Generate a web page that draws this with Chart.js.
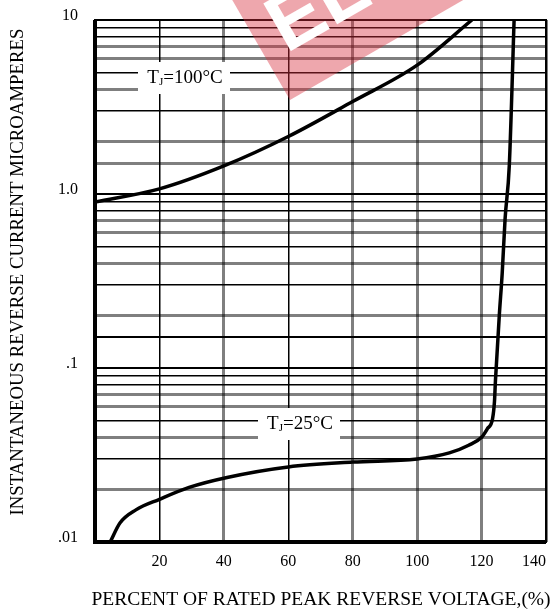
<!DOCTYPE html>
<html>
<head>
<meta charset="utf-8">
<script src="https://cdn.jsdelivr.net/npm/chart.js@4.4.0/dist/chart.umd.min.js"></script>
<style>
  html, body { margin: 0; padding: 0; background: #fff; }
  #wrap { width: 555px; height: 609px; }
</style>
</head>
<body>
<div id="wrap"><canvas id="curveChart" width="555" height="609"></canvas></div>
<script>
// Reverse leakage current vs percent of rated peak reverse voltage

const voltage100 = [0, 20, 40, 60, 80, 100, 117];
const current100 = [0.90, 1.07, 1.45, 2.14, 3.4, 5.5, 10];

const voltage25 = [4.7, 7.8, 12.7, 20, 29.2, 41, 60, 80, 100, 110, 116, 120, 121.8, 123.4, 124, 124.3, 125.5, 126.4, 127.3, 128.6, 130.1];
const current25 = [0.01, 0.0129, 0.0153, 0.0176, 0.0206, 0.0235, 0.027, 0.0288, 0.030, 0.0325, 0.036, 0.040, 0.0448, 0.051, 0.064, 0.084, 0.2, 0.35, 0.72, 1.45, 10];

const xTickLabels = [20, 40, 60, 80, 100, 120, 140];
const yTickLabels = { 10: "10", 1: "1.0", 0.1: ".1", 0.01: ".01" };

const seriesLabels = ["100", "25"];

const serif = "'Liberation Serif', 'DejaVu Serif', serif";

function toPoints(xs, ys) {
    return xs.map((x, i) => ({ x, y: ys[i] }));
}

function significand(v) {
    const e = Math.floor(Math.log10(v) + 1e-9);
    return Math.round(v / Math.pow(10, e));
}

// labels with white box, plus axis titles and the watermark
const overlayPlugin = {
    id: "overlay",
    afterDatasetsDraw(chart) {
        const { ctx } = chart;

        function tjLabel(cx, cy, temp, box) {
            ctx.save();
            ctx.fillStyle = "#fff";
            ctx.fillRect(box[0], box[1], box[2], box[3]);
            ctx.fillStyle = "#000";
            ctx.textBaseline = "alphabetic";
            ctx.textAlign = "left";
            const big = "19px " + serif, small = "11px " + serif;
            ctx.font = big;
            const wT = ctx.measureText("T").width;
            const rest = "=" + temp + "\u00B0C";
            const wR = ctx.measureText(rest).width;
            ctx.font = small;
            const wJ = ctx.measureText("J").width;
            let x = cx - (wT + wJ + wR) / 2;
            const base = cy + 6;
            ctx.font = big;
            ctx.fillText("T", x, base);
            x += wT;
            ctx.font = small;
            ctx.fillText("J", x, base + 2);
            x += wJ;
            ctx.font = big;
            ctx.fillText(rest, x, base);
            ctx.restore();
        }

        tjLabel(185, 77, seriesLabels[0], [138, 62, 92, 32]);
        tjLabel(300, 423, seriesLabels[1], [258, 408, 82, 32]);

        // axis titles
        ctx.save();
        ctx.fillStyle = "#000";
        ctx.textAlign = "center";
        ctx.textBaseline = "middle";
        ctx.font = "19.5px " + serif;
        ctx.fillText("PERCENT OF RATED PEAK REVERSE VOLTAGE,(%)", 321, 600);
        ctx.font = "18.8px " + serif;
        ctx.translate(18, 272);
        ctx.rotate(-Math.PI / 2);
        ctx.fillText("INSTANTANEOUS REVERSE CURRENT MICROAMPERES", 0, 0);
        ctx.restore();

        // red watermark band
        ctx.save();
        ctx.translate(290, 100);
        ctx.rotate(-30 * Math.PI / 180);
        ctx.fillStyle = "rgba(215, 45, 60, 0.42)";
        ctx.fillRect(0, -220, 240, 220);
        ctx.fillStyle = "#fff";
        ctx.font = "bold 80px 'Liberation Sans', sans-serif";
        ctx.textBaseline = "alphabetic";
        ctx.fillText("ELE", 20, -42);
        ctx.restore();
    }
};

const ctx = document.getElementById("curveChart").getContext("2d");

new Chart(ctx, {
    type: "scatter",
    data: {
        datasets: [
            {
                label: "TJ=100°C",
                data: toPoints(voltage100, current100),
                showLine: true,
                borderColor: "#000",
                borderWidth: 3.5,
                pointRadius: 0,
                cubicInterpolationMode: "monotone"
            },
            {
                label: "TJ=25°C",
                data: toPoints(voltage25, current25),
                showLine: true,
                borderColor: "#000",
                borderWidth: 3.5,
                pointRadius: 0,
                cubicInterpolationMode: "monotone"
            }
        ]
    },
    options: {
        responsive: false,
        animation: false,
        devicePixelRatio: 1,
        layout: { padding: { top: 20, right: 9, left: 0, bottom: 0 } },
        plugins: {
            legend: { display: false },
            tooltip: { enabled: false }
        },
        scales: {
            x: {
                type: "linear",
                min: 0,
                max: 140,
                afterFit(scale) {
                    scale.height = 67;
                    scale.paddingLeft = 0;
                    scale.paddingRight = 0;
                },
                afterBuildTicks(scale) {
                    scale.ticks = [0].concat(xTickLabels).map(v => ({ value: v }));
                },
                border: { display: false },
                grid: {
                    drawTicks: false,
                    color(c) {
                        const v = c.tick && c.tick.value;
                        return (v === 20 || v === 60) ? "#000" : "rgba(0,0,0,0.5)";
                    },
                    lineWidth(c) {
                        const v = c.tick && c.tick.value;
                        return (v === 20 || v === 60) ? 1.5 : 3;
                    }
                },
                ticks: {
                    autoSkip: false,
                    maxRotation: 0,
                    minRotation: 0,
                    align: "inner",
                    padding: 10,
                    color: "#000",
                    font: { family: serif, size: 16 },
                    callback: v => (xTickLabels.includes(v) ? String(v) : "")
                }
            },
            y: {
                type: "logarithmic",
                min: 0.01,
                max: 10,
                afterFit(scale) {
                    scale.width = 95;
                    scale.paddingTop = 0;
                    scale.paddingBottom = 0;
                },
                border: { display: false },
                grid: {
                    drawTicks: false,
                    color(c) {
                        const s = significand(c.tick.value);
                        return [1, 3, 5, 8, 9].includes(s) ? "#000" : "rgba(0,0,0,0.5)";
                    },
                    lineWidth(c) {
                        const s = significand(c.tick.value);
                        if (s === 1) return 2;
                        return [3, 5, 8, 9].includes(s) ? 1.5 : 3;
                    }
                },
                ticks: {
                    autoSkip: false,
                    padding: 17,
                    labelOffset: -4,
                    color: "#000",
                    font: { family: serif, size: 16 },
                    callback(v) {
                        for (const k in yTickLabels) {
                            if (Math.abs(v - Number(k)) < 1e-9) return yTickLabels[k];
                        }
                        return "";
                    }
                }
            }
        }
    },
    plugins: [overlayPlugin, {
        id: "frame",
        beforeDatasetsDraw(chart) {
            const { ctx, chartArea: a } = chart;
            ctx.save();
            ctx.strokeStyle = "#000";
            ctx.lineWidth = 2;
            ctx.strokeRect(a.left, a.top, a.right - a.left, a.bottom - a.top);
            ctx.lineWidth = 4;
            ctx.beginPath();
            ctx.moveTo(a.left, a.top);
            ctx.lineTo(a.left, a.bottom);
            ctx.lineTo(a.right, a.bottom);
            ctx.stroke();
            ctx.restore();
        }
    }]
});
</script>
</body>
</html>
